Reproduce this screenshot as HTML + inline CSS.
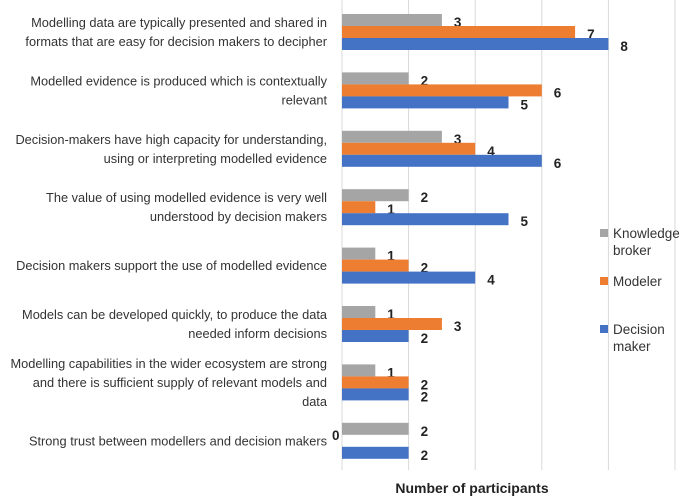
<!DOCTYPE html>
<html><head><meta charset="utf-8"><style>
body{margin:0;background:#fff;}
svg{display:block;font-family:"Liberation Sans",sans-serif;}
</style></head><body>
<svg id="c" width="696" height="500">
<g id="grid"></g><g id="bars"></g><g id="cats"></g>
<g font-size="13.5" fill="#333">
 <rect x="600" y="229" width="8" height="8" fill="#a5a5a5"/>
 <text x="613" y="238">Knowledge</text>
 <text x="613" y="255">broker</text>
 <rect x="600" y="277" width="8" height="8" fill="#ed7d31"/>
 <text x="613" y="286">Modeler</text>
 <rect x="600" y="325" width="8" height="8" fill="#4472c4"/>
 <text x="613" y="334">Decision</text>
 <text x="613" y="351">maker</text>
</g>
<text x="472" y="493" text-anchor="middle" font-size="14" font-weight="bold" fill="#222">Number of participants</text>
</svg>
<script>
const categories=[
 ["Modelling data are typically presented and shared in","formats that are easy for decision makers to decipher"],
 ["Modelled evidence is produced which is contextually","relevant"],
 ["Decision-makers have high capacity for understanding,","using or interpreting modelled evidence"],
 ["The value of using modelled evidence is very well","understood by decision makers"],
 ["Decision makers support the use of modelled evidence"],
 ["Models can be developed quickly, to produce the data","needed inform decisions"],
 ["Modelling capabilities in the wider ecosystem are strong","and there is sufficient supply of relevant models and","data"],
 ["Strong trust between modellers and decision makers"]
];
const knowledgeBroker=[3,2,3,2,1,1,1,2];
const modeler=[7,6,4,1,2,3,2,0];
const decisionMaker=[8,5,6,5,4,2,2,2];
const gridTicks=[0,2,4,6,8,10];
const NS="http://www.w3.org/2000/svg";
const x0=342,unit=33.3,top0=14,groupStep=58.4,barH=12;
const xs=v=>x0+v*unit;
const gy=i=>top0+i*groupStep;
function mk(tag,attrs,parent){const e=document.createElementNS(NS,tag);for(const k in attrs)e.setAttribute(k,attrs[k]);parent.appendChild(e);return e;}
const grid=document.getElementById('grid'),bars=document.getElementById('bars'),cats=document.getElementById('cats');
gridTicks.forEach(t=>{const l=mk('line',{x1:xs(t),x2:xs(t),y1:0,y2:470,stroke:'#d9d9d9','stroke-width':1},grid);

});
const series=[[knowledgeBroker,'#a5a5a5','knowledge-broker'],[modeler,'#ed7d31','modeler'],[decisionMaker,'#4472c4','decision-maker']];
categories.forEach((c,i)=>{
 series.forEach((s,j)=>{
  const v=s[0][i],y=gy(i)+j*barH;
  const r=mk('rect',{x:x0,y:y,width:Math.max(0,xs(v)-x0),height:barH,fill:s[1]},bars);
  
  
  const t=mk('text',{x:xs(v)+(v===0?-10:12),y:y+barH/2+(v===0?-1:7),'font-size':13.5,'font-weight':'bold',fill:'#222'},bars);
  t.textContent=v;
  
  
 });
 const cy=gy(i)+18,n=c.length,lh=19;
 c.forEach((line,k)=>{
  const t=mk('text',{x:327,y:cy-(n-1)*lh/2+k*lh+4.5,'text-anchor':'end','font-size':12.8,fill:'#333'},cats);
  t.textContent=line;
  
  
 });
});
</script>
</body></html>
